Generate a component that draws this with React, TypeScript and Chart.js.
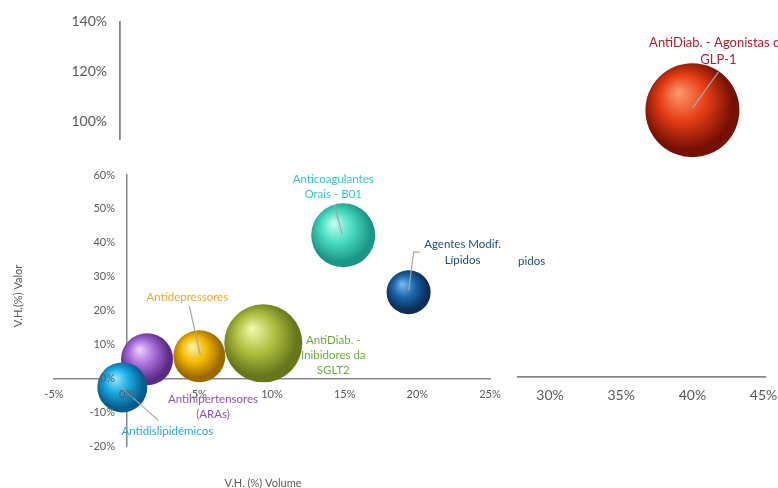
import React, { useEffect, useRef } from "react";
import { Chart, registerables } from "chart.js";

Chart.register(...registerables);

// ---------------- DATA ----------------
const categories = [
  "Antihipertensores (ARAs)",
  "Antidepressores",
  "AntiDiab. - Inibidores da SGLT2",
  "Antidislipidémicos",
  "Anticoagulantes Orais - B01",
  "Agentes Modif. Lípidos",
  "AntiDiab. - Agonistas do GLP-1",
];
// V.H. (%) Volume
const volumeGrowth = [1.4, 5.0, 9.4, -0.3, 14.9, 19.4, 40.0];
// V.H.(%) Valor
const valueGrowth = [5.6, 6.5, 10.3, -2.7, 42.2, 25.4, 104.5];
// bubble size (radius)
const bubbleSize = [26, 26, 39, 25, 32, 22, 47];
// which panel of the composite each bubble sits in
const panel = ["main", "main", "main", "main", "main", "main", "right"];

const labelLines = [
  ["Antihipertensores", "(ARAs)"],
  ["Antidepressores"],
  ["AntiDiab. -", "Inibidores da", "SGLT2"],
  ["Antidislipidémicos"],
  ["Anticoagulantes", "Orais - B01"],
  ["Agentes Modif.", "Lípidos"],
  ["AntiDiab. - Agonistas do", "GLP-1"],
];

const mainXTicks = [-5, 0, 5, 10, 15, 20, 25];
const mainYTicks = [-20, -10, 0, 10, 20, 30, 40, 50, 60];
const upperYTicks = [100, 120, 140];
const rightXTicks = [30, 35, 40, 45];

const xTitle = "V.H. (%) Volume";
const yTitle = "V.H.(%) Valor";
const strayText = "pidos";

// ---------------- STYLE ----------------
const W = 778;
const H = 488;
const FONT = "Lato, 'Open Sans', sans-serif";
const TICK_COLOR = "#595959";
const AXIS_COLOR = "#878787";
const LEADER_COLOR = "#a6a6a6";

const palette = [
  { light: "#f2d2ff", base: "#a66cd8", dark: "#5a2a86", label: "#8d51bd" },
  { light: "#fff2a8", base: "#f4b800", dark: "#9c6800", label: "#f2a62a" },
  { light: "#f4fbb0", base: "#b0c040", dark: "#66761a", label: "#6fab3e" },
  { light: "#9aeaff", base: "#18a9e2", dark: "#075c8c", label: "#28a9dc" },
  { light: "#c8fff2", base: "#48dcc0", dark: "#1a9686", label: "#33c6c6" },
  { light: "#74bff4", base: "#1c66aa", dark: "#0b2d58", label: "#1f4e79" },
  { light: "#ff9a70", base: "#e63e14", dark: "#761004", label: "#c0182b" },
];

// label placement relative to bubble centre (px)
const labelLayout = [
  { dx: 66, dy: 40, size: 11.5, lh: 15, leader: null as number[][] | null },
  { dx: -12, dy: -59, size: 11.5, lh: 15, leader: [[1, -1], [-10, -50]] },
  { dx: 70, dy: -3, size: 11.5, lh: 15, leader: null },
  { dx: 45, dy: 44, size: 11.5, lh: 15, leader: [[0, 1], [36, 33]] },
  { dx: -10, dy: -56, size: 11.5, lh: 15, leader: [[-1, -1], [-9, -30]] },
  { dx: 54, dy: -48, size: 11.5, lh: 16, leader: [[0, -2], [5, -40], [11, -40]] },
  { dx: 26, dy: -67, size: 13, lh: 17, leader: [[0, -2], [26, -38]] },
];

function sphereFill(indices: number[]) {
  return (ctx: any) => {
    const i = indices[ctx.dataIndex];
    const p = palette[i] || palette[0];
    const chart = ctx.chart;
    const raw = ctx.raw;
    if (!raw || !chart.chartArea || !chart.scales.x || !chart.scales.y) return p.base;
    const cx = chart.scales.x.getPixelForValue(raw.x);
    const cy = chart.scales.y.getPixelForValue(raw.y);
    const r = raw.r;
    if (!isFinite(cx) || !isFinite(cy)) return p.base;
    const g = chart.ctx.createRadialGradient(
      cx - 0.3 * r, cy - 0.38 * r, 0,
      cx - 0.08 * r, cy - 0.1 * r, r * 1.1
    );
    g.addColorStop(0, p.light);
    g.addColorStop(0.45, p.base);
    g.addColorStop(0.88, p.dark);
    g.addColorStop(1, p.dark);
    return g;
  };
}

function labelPlugin(id: string, indices: number[], extra?: (c: CanvasRenderingContext2D) => void) {
  return {
    id,
    afterDatasetsDraw(chart: any) {
      const ctx = chart.ctx as CanvasRenderingContext2D;
      const meta = chart.getDatasetMeta(0);
      ctx.save();
      indices.forEach((i, k) => {
        const el = meta.data[k];
        if (!el) return;
        const L = labelLayout[i];
        const cx = el.x;
        const cy = el.y;
        if (L.leader) {
          ctx.beginPath();
          ctx.strokeStyle = LEADER_COLOR;
          ctx.lineWidth = 1.2;
          L.leader.forEach((pt, j) => {
            if (j === 0) ctx.moveTo(cx + pt[0], cy + pt[1]);
            else ctx.lineTo(cx + pt[0], cy + pt[1]);
          });
          ctx.stroke();
        }
        ctx.fillStyle = palette[i].label;
        ctx.font = `${L.size}px ${FONT}`;
        ctx.textAlign = "center";
        ctx.textBaseline = "middle";
        labelLines[i].forEach((line, j) => {
          ctx.fillText(line, cx + L.dx, cy + L.dy + j * L.lh);
        });
      });
      if (extra) extra(ctx);
      ctx.restore();
    },
  };
}

const pct = (v: any) => `${v}%`;
const baseOpts = {
  responsive: false,
  animation: false,
  devicePixelRatio: 1,
  events: [],
};
const noPlugins = { legend: { display: false }, tooltip: { enabled: false }, title: { display: false } };

const MAIN_AREA = { left: 54, right: 490, top: 175, bottom: 446 };

function mainConfig(): any {
  const idx = categories.map((_, i) => i).filter((i) => panel[i] === "main");
  const titles = {
    id: "axisTitles",
    afterDraw(chart: any) {
      const ctx = chart.ctx as CanvasRenderingContext2D;
      ctx.save();
      ctx.fillStyle = TICK_COLOR;
      ctx.font = `11px ${FONT}`;
      ctx.textAlign = "center";
      ctx.textBaseline = "middle";
      ctx.fillText(xTitle, 263, 483);
      ctx.translate(18, 296);
      ctx.rotate(-Math.PI / 2);
      ctx.fillText(yTitle, 0, 0);
      ctx.restore();
    },
  };
  return {
    type: "bubble",
    data: {
      datasets: [
        {
          data: idx.map((i) => ({ x: volumeGrowth[i], y: valueGrowth[i], r: bubbleSize[i] })),
          backgroundColor: sphereFill(idx),
          borderWidth: 0,
          clip: false,
        },
      ],
    },
    options: {
      ...baseOpts,
      layout: {
        autoPadding: false,
        padding: { left: MAIN_AREA.left, right: W - MAIN_AREA.right, top: MAIN_AREA.top, bottom: H - MAIN_AREA.bottom },
      },
      plugins: noPlugins,
      scales: {
        x: {
          type: "linear",
          min: -5,
          max: 25,
          position: { y: 0 },
          afterBuildTicks: (s: any) => {
            s.ticks = mainXTicks.map((v) => ({ value: v }));
          },
          grid: { display: false, drawTicks: false },
          border: { display: true, color: AXIS_COLOR, width: 1.5, z: 0 },
          ticks: {
            z: 1,
            color: TICK_COLOR,
            font: { family: FONT, size: 11 },
            padding: 10,
            maxRotation: 0,
            autoSkip: false,
            callback: pct,
          },
        },
        y: {
          type: "linear",
          min: -20,
          max: 60,
          position: { x: 0 },
          afterBuildTicks: (s: any) => {
            s.ticks = mainYTicks.map((v) => ({ value: v }));
          },
          grid: { display: false, drawTicks: false },
          border: { display: true, color: AXIS_COLOR, width: 1.5, z: 0 },
          ticks: { display: false },
        },
      },
    },
    plugins: [labelPlugin("mainLabels", idx), titles],
  };
}

// y tick labels of the main panel (drawn above the bubbles)
function mainYLabelsConfig(): any {
  return {
    type: "bubble",
    data: { datasets: [{ data: [] }] },
    options: {
      ...baseOpts,
      layout: {
        autoPadding: false,
        padding: { left: 0, right: W - 220, top: MAIN_AREA.top, bottom: H - MAIN_AREA.bottom },
      },
      plugins: noPlugins,
      scales: {
        x: { type: "linear", min: 0, max: 1, display: false },
        y: {
          type: "linear",
          min: -20,
          max: 60,
          position: "left",
          afterFit: (s: any) => {
            s.width = 126;
          },
          afterBuildTicks: (s: any) => {
            s.ticks = mainYTicks.map((v) => ({ value: v }));
          },
          grid: { display: false, drawTicks: false },
          border: { display: false },
          ticks: {
            color: TICK_COLOR,
            font: { family: FONT, size: 11 },
            padding: 11,
            autoSkip: false,
            callback: pct,
          },
        },
      },
    },
  };
}

function upperAxisConfig(): any {
  return {
    type: "bubble",
    data: { datasets: [{ data: [] }] },
    options: {
      ...baseOpts,
      layout: { autoPadding: false, padding: { left: 0, right: W - 220, top: 19, bottom: H - 139 } },
      plugins: noPlugins,
      scales: {
        x: { type: "linear", min: 0, max: 1, display: false },
        y: {
          type: "linear",
          min: 93,
          max: 140,
          position: "left",
          afterFit: (s: any) => {
            s.width = 120;
          },
          afterBuildTicks: (s: any) => {
            s.ticks = upperYTicks.map((v) => ({ value: v }));
          },
          grid: { display: false, drawTicks: false },
          border: { display: true, color: AXIS_COLOR, width: 1.8 },
          ticks: {
            color: TICK_COLOR,
            font: { family: FONT, size: 14 },
            padding: 13,
            autoSkip: false,
            callback: pct,
          },
        },
      },
    },
  };
}

function rightConfig(): any {
  const idx = categories.map((_, i) => i).filter((i) => panel[i] === "right");
  const yMin = 0.6;
  const stray = (ctx: CanvasRenderingContext2D) => {
    ctx.fillStyle = palette[5].label;
    ctx.font = `11.5px ${FONT}`;
    ctx.textAlign = "left";
    ctx.textBaseline = "middle";
    ctx.fillText(strayText, 518, 261);
  };
  return {
    type: "bubble",
    data: {
      datasets: [
        {
          data: idx.map((i) => ({ x: volumeGrowth[i], y: valueGrowth[i], r: bubbleSize[i] })),
          backgroundColor: sphereFill(idx),
          borderWidth: 0,
          clip: false,
        },
      ],
    },
    options: {
      ...baseOpts,
      layout: { autoPadding: false, padding: { left: 518, right: W - 765, top: 19, bottom: H - 377 } },
      plugins: noPlugins,
      scales: {
        x: {
          type: "linear",
          min: 27.75,
          max: 45.1,
          position: { y: yMin },
          afterBuildTicks: (s: any) => {
            s.ticks = rightXTicks.map((v) => ({ value: v }));
          },
          grid: { display: false, drawTicks: false },
          border: { display: true, color: AXIS_COLOR, width: 1.8 },
          ticks: {
            color: TICK_COLOR,
            font: { family: FONT, size: 14, lineHeight: 2.7 },
            padding: 0,
            maxRotation: 0,
            autoSkip: false,
            callback: pct,
          },
        },
        y: { type: "linear", min: yMin, max: 140, display: false },
      },
    },
    plugins: [labelPlugin("rightLabels", idx, stray)],
  };
}

export default function App() {
  const mainRef = useRef<HTMLCanvasElement>(null);
  const yLabRef = useRef<HTMLCanvasElement>(null);
  const upperRef = useRef<HTMLCanvasElement>(null);
  const rightRef = useRef<HTMLCanvasElement>(null);

  useEffect(() => {
    const charts = [
      new Chart(mainRef.current as HTMLCanvasElement, mainConfig()),
      new Chart(yLabRef.current as HTMLCanvasElement, mainYLabelsConfig()),
      new Chart(upperRef.current as HTMLCanvasElement, upperAxisConfig()),
      new Chart(rightRef.current as HTMLCanvasElement, rightConfig()),
    ];
    return () => charts.forEach((c) => c.destroy());
  }, []);

  const cs: React.CSSProperties = { position: "absolute", left: 0, top: 0, width: W, height: H };
  return (
    <div style={{ position: "fixed", left: 0, top: 0, width: W, height: H, background: "#ffffff", overflow: "hidden" }}>
      <canvas ref={mainRef} width={W} height={H} style={cs} />
      <canvas ref={yLabRef} width={W} height={H} style={cs} />
      <canvas ref={upperRef} width={W} height={H} style={cs} />
      <canvas ref={rightRef} width={W} height={H} style={cs} />
    </div>
  );
}
